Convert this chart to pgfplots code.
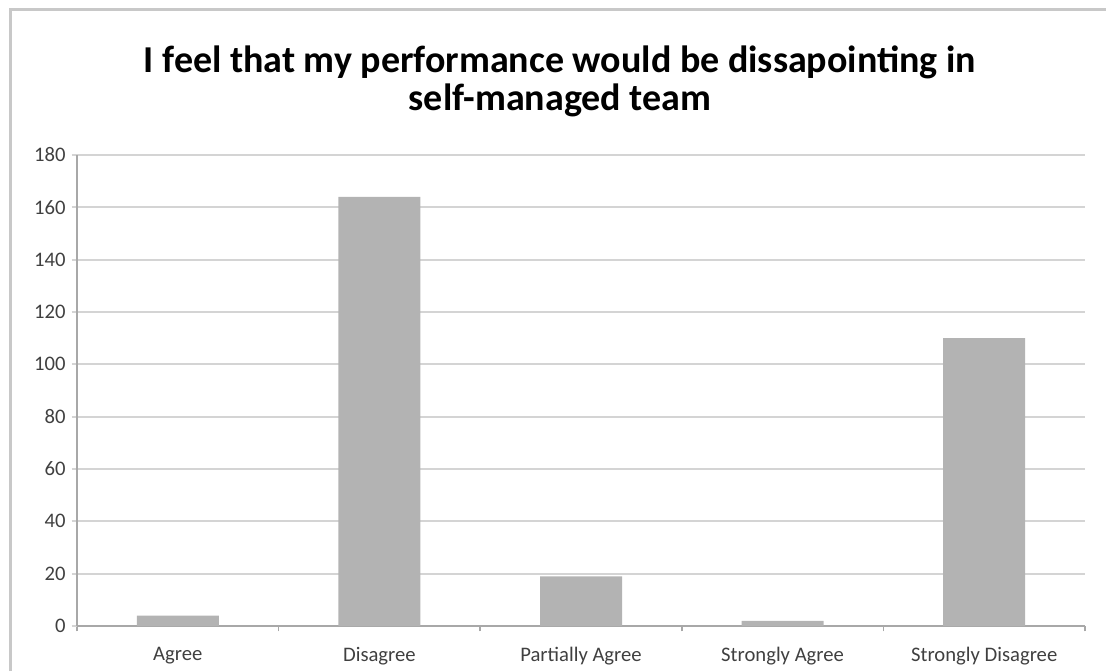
\documentclass[border=0pt]{standalone}
\usepackage{pgfplots}
\pgfplotsset{compat=1.18}
\usepackage{fontspec}
\setmainfont{Carlito}
\definecolor{barc}{HTML}{B3B3B3}
\definecolor{gridc}{HTML}{D4D4D4}
\definecolor{axc}{HTML}{A8A8A8}
\definecolor{framec}{HTML}{C8C8C8}
\begin{document}
\begin{tikzpicture}[x=0.75pt,y=0.75pt]
\useasboundingbox (0,0) rectangle (1106,671);
\draw[framec,line width=2.25pt] (10,0) -- (10,661) -- (1106,661);
\node[align=center,font=\fontsize{28.5}{28.5}\selectfont\bfseries] at (560,590)
  {I feel that my performance would be dissapointing in\\self-managed team};
\begin{axis}[
  at={(57.75pt,33.75pt)}, anchor=south west,
  scale only axis, width=756pt, height=353.25pt,
  ybar, bar width=61.5pt,
  xmin=-0.5, xmax=4.5, ymin=0, ymax=180,
  ytick={0,20,...,180},
  xtick={-0.5,0.5,...,4.5}, xticklabels={},
  extra x ticks={0,1,2,3,4},
  extra x tick labels={Agree,Disagree,Partially Agree,Strongly Agree,Strongly Disagree},
  extra x tick style={major tick length=0pt, grid=none},
  axis x line*=bottom, axis y line*=left,
  axis line style={axc,line width=1.2pt,-},
  ymajorgrids, grid style={gridc,line width=1.5pt},
  tick style={axc,line width=1.2pt},
  major tick length=4pt,
  y tick style={gridc,line width=1.5pt},
  tick align=outside,
  ticklabel style={font=\fontsize{15.5}{18}\selectfont, text=black!75},
  /pgf/number format/assume math mode=true,
  yticklabel style={xshift=-1pt},
  xticklabel style={yshift=-12.5pt},
  clip=false,
]
\addplot[fill=barc, draw=none] coordinates {(0,4) (1,164) (2,19) (3,2) (4,110)};
\end{axis}
\end{tikzpicture}
\end{document}
